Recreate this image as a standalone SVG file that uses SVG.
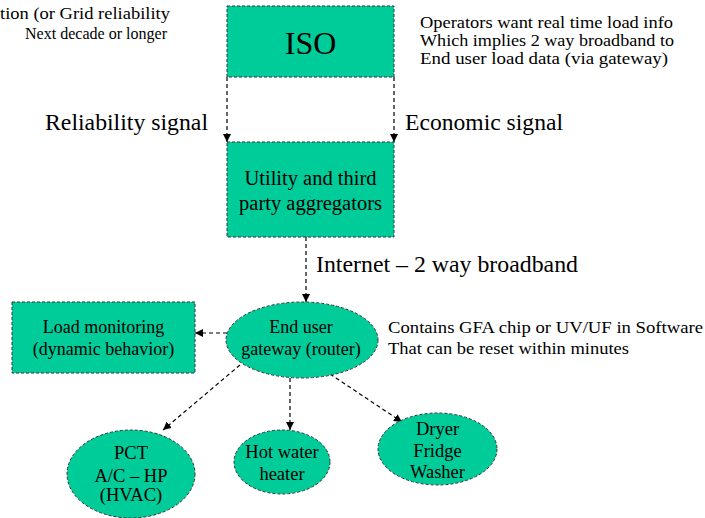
<svg xmlns="http://www.w3.org/2000/svg" width="705" height="518" viewBox="0 0 705 518" font-family="'Liberation Serif', 'DejaVu Serif', 'Times New Roman', Times, serif">
<style>
text{font-family:"Liberation Serif","DejaVu Serif","Times New Roman",Times,serif;fill:#000}
.box{fill:#00CC99;stroke:#333;stroke-width:1;stroke-dasharray:3,2}
.con{fill:none;stroke:#000;stroke-width:1.2;stroke-dasharray:4,3}
.m{text-anchor:middle}
</style>
<defs>
<marker id="ah" markerUnits="userSpaceOnUse" markerWidth="9" markerHeight="8" refX="8" refY="4" orient="auto">
<path d="M0,0 L8,4 L0,8 Z" fill="#000"/>
</marker>
</defs>
<rect width="705" height="518" fill="#fff"/>
<g id="notes">
<text x="0" y="19" font-size="17" textLength="170" lengthAdjust="spacingAndGlyphs">tion (or Grid reliability</text>
<text x="25" y="39" font-size="17" textLength="142" lengthAdjust="spacingAndGlyphs">Next decade or longer</text>
<text x="420" y="28" font-size="16" textLength="253" lengthAdjust="spacingAndGlyphs">Operators want real time load info</text>
<text x="420" y="46" font-size="16" textLength="254" lengthAdjust="spacingAndGlyphs">Which implies 2 way broadband to</text>
<text x="420" y="64" font-size="16" textLength="248" lengthAdjust="spacingAndGlyphs">End user load data (via gateway)</text>
<text x="388" y="333" font-size="16" textLength="315" lengthAdjust="spacingAndGlyphs">Contains GFA chip or UV/UF in Software</text>
<text x="388" y="354" font-size="16" textLength="241" lengthAdjust="spacingAndGlyphs">That can be reset within minutes</text>
</g>
<g id="connectors">
<line class="con" x1="227" y1="77" x2="227" y2="142" marker-end="url(#ah)"/>
<line class="con" x1="394" y1="77" x2="394" y2="142" marker-end="url(#ah)"/>
<line class="con" x1="306" y1="237" x2="306" y2="302" marker-end="url(#ah)"/>
<line class="con" x1="227" y1="333" x2="195" y2="333" marker-end="url(#ah)"/>
<line class="con" x1="240" y1="365" x2="163" y2="430" marker-end="url(#ah)"/>
<line class="con" x1="290" y1="378" x2="290" y2="430" marker-end="url(#ah)"/>
<line class="con" x1="330" y1="374" x2="402" y2="422" marker-end="url(#ah)"/>
<text x="45" y="130" font-size="23" textLength="163" lengthAdjust="spacingAndGlyphs">Reliability signal</text>
<text x="405" y="130" font-size="23" textLength="158" lengthAdjust="spacingAndGlyphs">Economic signal</text>
<text x="316" y="272" font-size="23" textLength="262" lengthAdjust="spacingAndGlyphs">Internet – 2 way broadband</text>
</g>
<g id="iso">
<rect class="box" x="227" y="6" width="167" height="71"/>
<text class="m" x="310.5" y="54" font-size="32">ISO</text>
</g>
<g id="utility">
<rect class="box" x="227" y="142" width="167" height="95"/>
<text class="m" x="310.5" y="185" font-size="20.5">Utility and third</text>
<text class="m" x="310.5" y="210" font-size="20.5">party aggregators</text>
</g>
<g id="gateway">
<ellipse class="box" cx="302" cy="340" rx="76" ry="38"/>
<text class="m" x="301" y="333" font-size="18">End user</text>
<text class="m" x="301" y="355" font-size="18">gateway (router)</text>
</g>
<g id="load">
<rect class="box" x="12" y="302" width="183" height="71"/>
<text class="m" x="103.5" y="333" font-size="18">Load monitoring</text>
<text class="m" x="103.5" y="355" font-size="18">(dynamic behavior)</text>
</g>
<g id="pct">
<ellipse class="box" cx="131" cy="474" rx="64" ry="44"/>
<text class="m" x="131" y="459" font-size="18.5">PCT</text>
<text class="m" x="131" y="482" font-size="18.5">A/C – HP</text>
<text class="m" x="131" y="501" font-size="18.5">(HVAC)</text>
</g>
<g id="hotwater">
<ellipse class="box" cx="282" cy="462" rx="48" ry="32"/>
<text class="m" x="282" y="458" font-size="18.5">Hot water</text>
<text class="m" x="282" y="480" font-size="18.5">heater</text>
</g>
<g id="dryer">
<ellipse class="box" cx="437.5" cy="449" rx="59.5" ry="36"/>
<text class="m" x="437.5" y="435" font-size="18.5">Dryer</text>
<text class="m" x="437.5" y="457" font-size="18.5">Fridge</text>
<text class="m" x="437.5" y="478" font-size="18.5">Washer</text>
</g>
</svg>
